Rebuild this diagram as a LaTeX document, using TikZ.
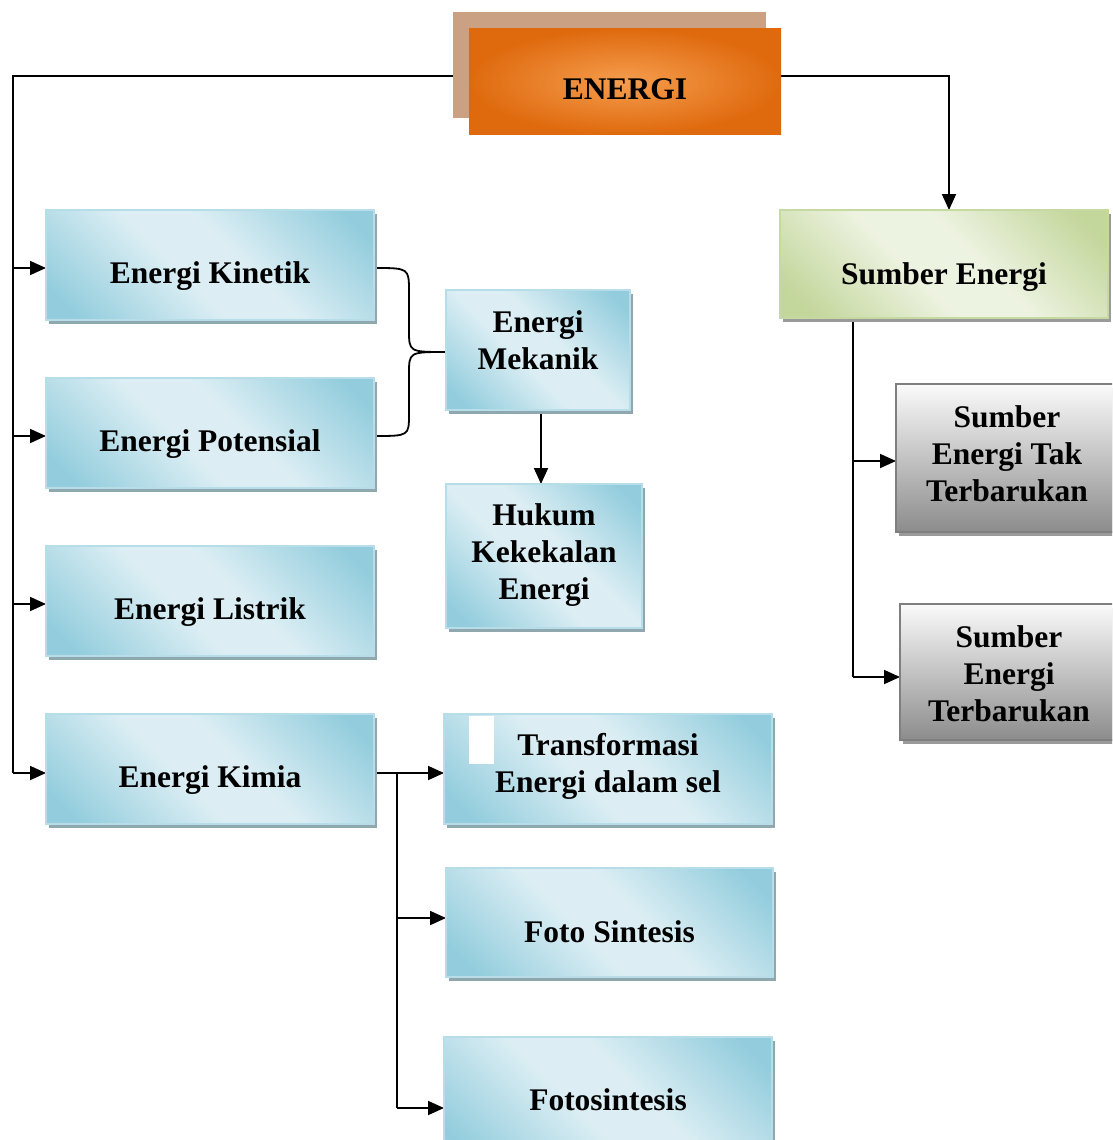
\documentclass[tikz,border=0pt]{standalone}
\usepackage{fontspec}
\setmainfont{Liberation Serif}
\usetikzlibrary{arrows.meta,shadows,backgrounds}
\definecolor{bdark}{HTML}{93CDDD}
\definecolor{blight}{HTML}{DCEEF4}
\definecolor{bborder}{HTML}{B6DDE8}
\definecolor{bshad}{HTML}{8FA8B0}
\definecolor{gdark}{HTML}{C3D69B}
\definecolor{glight}{HTML}{EDF3E1}
\definecolor{gborder}{HTML}{C6D9A0}
\definecolor{gshad}{HTML}{9A9A9A}
\definecolor{odark}{HTML}{DF6A0E}
\definecolor{olight}{HTML}{F59D4E}
\definecolor{oshad}{HTML}{CAA283}
\definecolor{ytop}{HTML}{FAFAFA}
\definecolor{ybot}{HTML}{8C8C8C}
\definecolor{yborder}{HTML}{7F7F7F}
\pgfdeclarehorizontalshading{blueband}{100bp}{color(0bp)=(bdark); color(20bp)=(bdark); color(44bp)=(blight); color(56bp)=(blight); color(80bp)=(bdark); color(100bp)=(bdark)}
\pgfdeclarehorizontalshading{greenband}{100bp}{color(0bp)=(gdark); color(20bp)=(gdark); color(44bp)=(glight); color(56bp)=(glight); color(80bp)=(gdark); color(100bp)=(gdark)}
\tikzset{
  box/.style={rectangle, inner sep=0pt, outer sep=0pt, line width=1.5pt,
    font=\fontsize{31.5}{37}\selectfont\bfseries, align=center,
    text height=36pt, text depth=0pt},
  bluebox/.style={box, draw=bborder, shade, shading=blueband, shading angle=45,
    drop shadow={shadow xshift=3pt, shadow yshift=-4pt, fill=bshad, opacity=1}},
  greenbox/.style={box, draw=gborder, shade, shading=greenband, shading angle=45,
    drop shadow={shadow xshift=3pt, shadow yshift=-4pt, fill=gshad, opacity=1}},
  graybox/.style={box, draw=yborder, top color=ytop, bottom color=ybot,
    drop shadow={shadow xshift=3pt, shadow yshift=-4pt, fill=gshad, opacity=1}},
  orangebox/.style={box, draw=none, inner color=olight, outer color=odark},
  conn/.style={line width=1.8pt, black},
  arr/.style={conn, -{Triangle[length=16pt,width=14pt]}}
}
\begin{document}
\begin{tikzpicture}[x=1pt,y=-1pt]
\useasboundingbox (0,0) rectangle (1112,1140);
\clip (0,0) rectangle (1112,1140);
% top
\node[box, fill=oshad, minimum width=313pt, minimum height=106pt] (eshadow) at (609.5,65) {};
\node[orangebox, minimum width=312pt, minimum height=105pt] (energi) at (625,81.5) {ENERGI};
% left column
\node[bluebox, minimum width=328pt, minimum height=110pt] (kin) at (210,265) {Energi Kinetik};
\node[bluebox, minimum width=328pt, minimum height=110pt] (pot) at (210,433) {Energi Potensial};
\node[bluebox, minimum width=328pt, minimum height=110pt] (lis) at (210,601) {Energi Listrik};
\node[bluebox, minimum width=328pt, minimum height=110pt] (kim) at (210,769) {Energi Kimia};
% middle column
\node[bluebox, minimum width=184pt, minimum height=120pt, text height=38pt, text depth=0pt] (mek) at (538,350) {Energi\\Mekanik};
\node[bluebox, minimum width=196pt, minimum height=144pt, text height=86pt, text depth=0pt] (huk) at (544,556) {Hukum\\Kekekalan\\Energi};
\node[bluebox, minimum width=328pt, minimum height=110pt, text height=46pt, text depth=0pt] (trans) at (608,769) {Transformasi\\Energi dalam sel};
\fill[white] (469,716) rectangle (494,764);
\node[bluebox, minimum width=327pt, minimum height=109pt, text height=39pt] (foto1) at (609.5,922.5) {Foto Sintesis};
\node[bluebox, minimum width=328pt, minimum height=126pt, text height=20pt] (foto2) at (608,1100) {Fotosintesis};
% right column
\node[greenbox, minimum width=328pt, minimum height=108pt, text height=40pt] (sumber) at (944,264) {Sumber Energi};
\node[graybox, minimum width=222pt, minimum height=148pt, text height=86pt, text depth=0pt] (tak) at (1007,458) {Sumber\\Energi Tak\\Terbarukan};
\node[graybox, minimum width=218pt, minimum height=136pt, text height=98pt, text depth=0pt] (baru) at (1009,672) {Sumber\\Energi\\Terbarukan};
% helper coordinates
\coordinate (tl) at (13,76);
\coordinate (tb) at (13,773);
\coordinate (tr) at (949,76);
\coordinate (kinin) at ([yshift=-3pt]kin.west);
\coordinate (potin) at ([yshift=-3pt]pot.west);
\coordinate (lisin) at ([yshift=-3pt]lis.west);
\coordinate (kimin) at ([yshift=-4pt]kim.west);
\coordinate (kinout) at ([yshift=-3pt]kin.east);
\coordinate (potout) at ([yshift=-3pt]pot.east);
\coordinate (mekin) at ([yshift=-2pt]mek.west);
\coordinate (mekout) at ([xshift=3pt]mek.south);
\coordinate (kimout) at ([yshift=-4pt]kim.east);
\coordinate (transin) at ([yshift=-4pt]trans.west);
\coordinate (kb) at (397,773);
\coordinate (f1in) at ([yshift=4.5pt]foto1.west);
\coordinate (f2in) at ([yshift=-8pt]foto2.west);
\coordinate (sb) at (853,318);
\coordinate (takin) at ([yshift=-3pt]tak.west);
\coordinate (baruin) at ([yshift=-5pt]baru.west);
\begin{pgfonlayer}{background}
\draw[conn] (energi.west |- tl) -- (tl) -- (tb);
\draw[arr] (tl |- kinin) -- (kinin);
\draw[arr] (tl |- potin) -- (potin);
\draw[arr] (tl |- lisin) -- (lisin);
\draw[arr] (tl |- kimin) -- (kimin);
\draw[arr] (energi.east |- tr) -- (tr) -- (tr |- sumber.north);
\draw[conn] (kinout) .. controls (409,268) .. (409,292) -- (409,330) .. controls (409,352) .. (mekin);
\draw[conn] (potout) .. controls (409,436) .. (409,414) -- (409,374) .. controls (409,352) .. (mekin);
\draw[arr] (mekout) -- (mekout |- huk.north);
\draw[arr] (kimout) -- (transin);
\draw[conn] (kb) -- (kb |- f2in);
\draw[arr] (kb |- f1in) -- (f1in);
\draw[arr] (kb |- f2in) -- (f2in);
\draw[conn] (sb) -- (sb |- baruin);
\draw[arr] (sb |- takin) -- (takin);
\draw[arr] (sb |- baruin) -- (baruin);
\end{pgfonlayer}
\end{tikzpicture}
\end{document}
